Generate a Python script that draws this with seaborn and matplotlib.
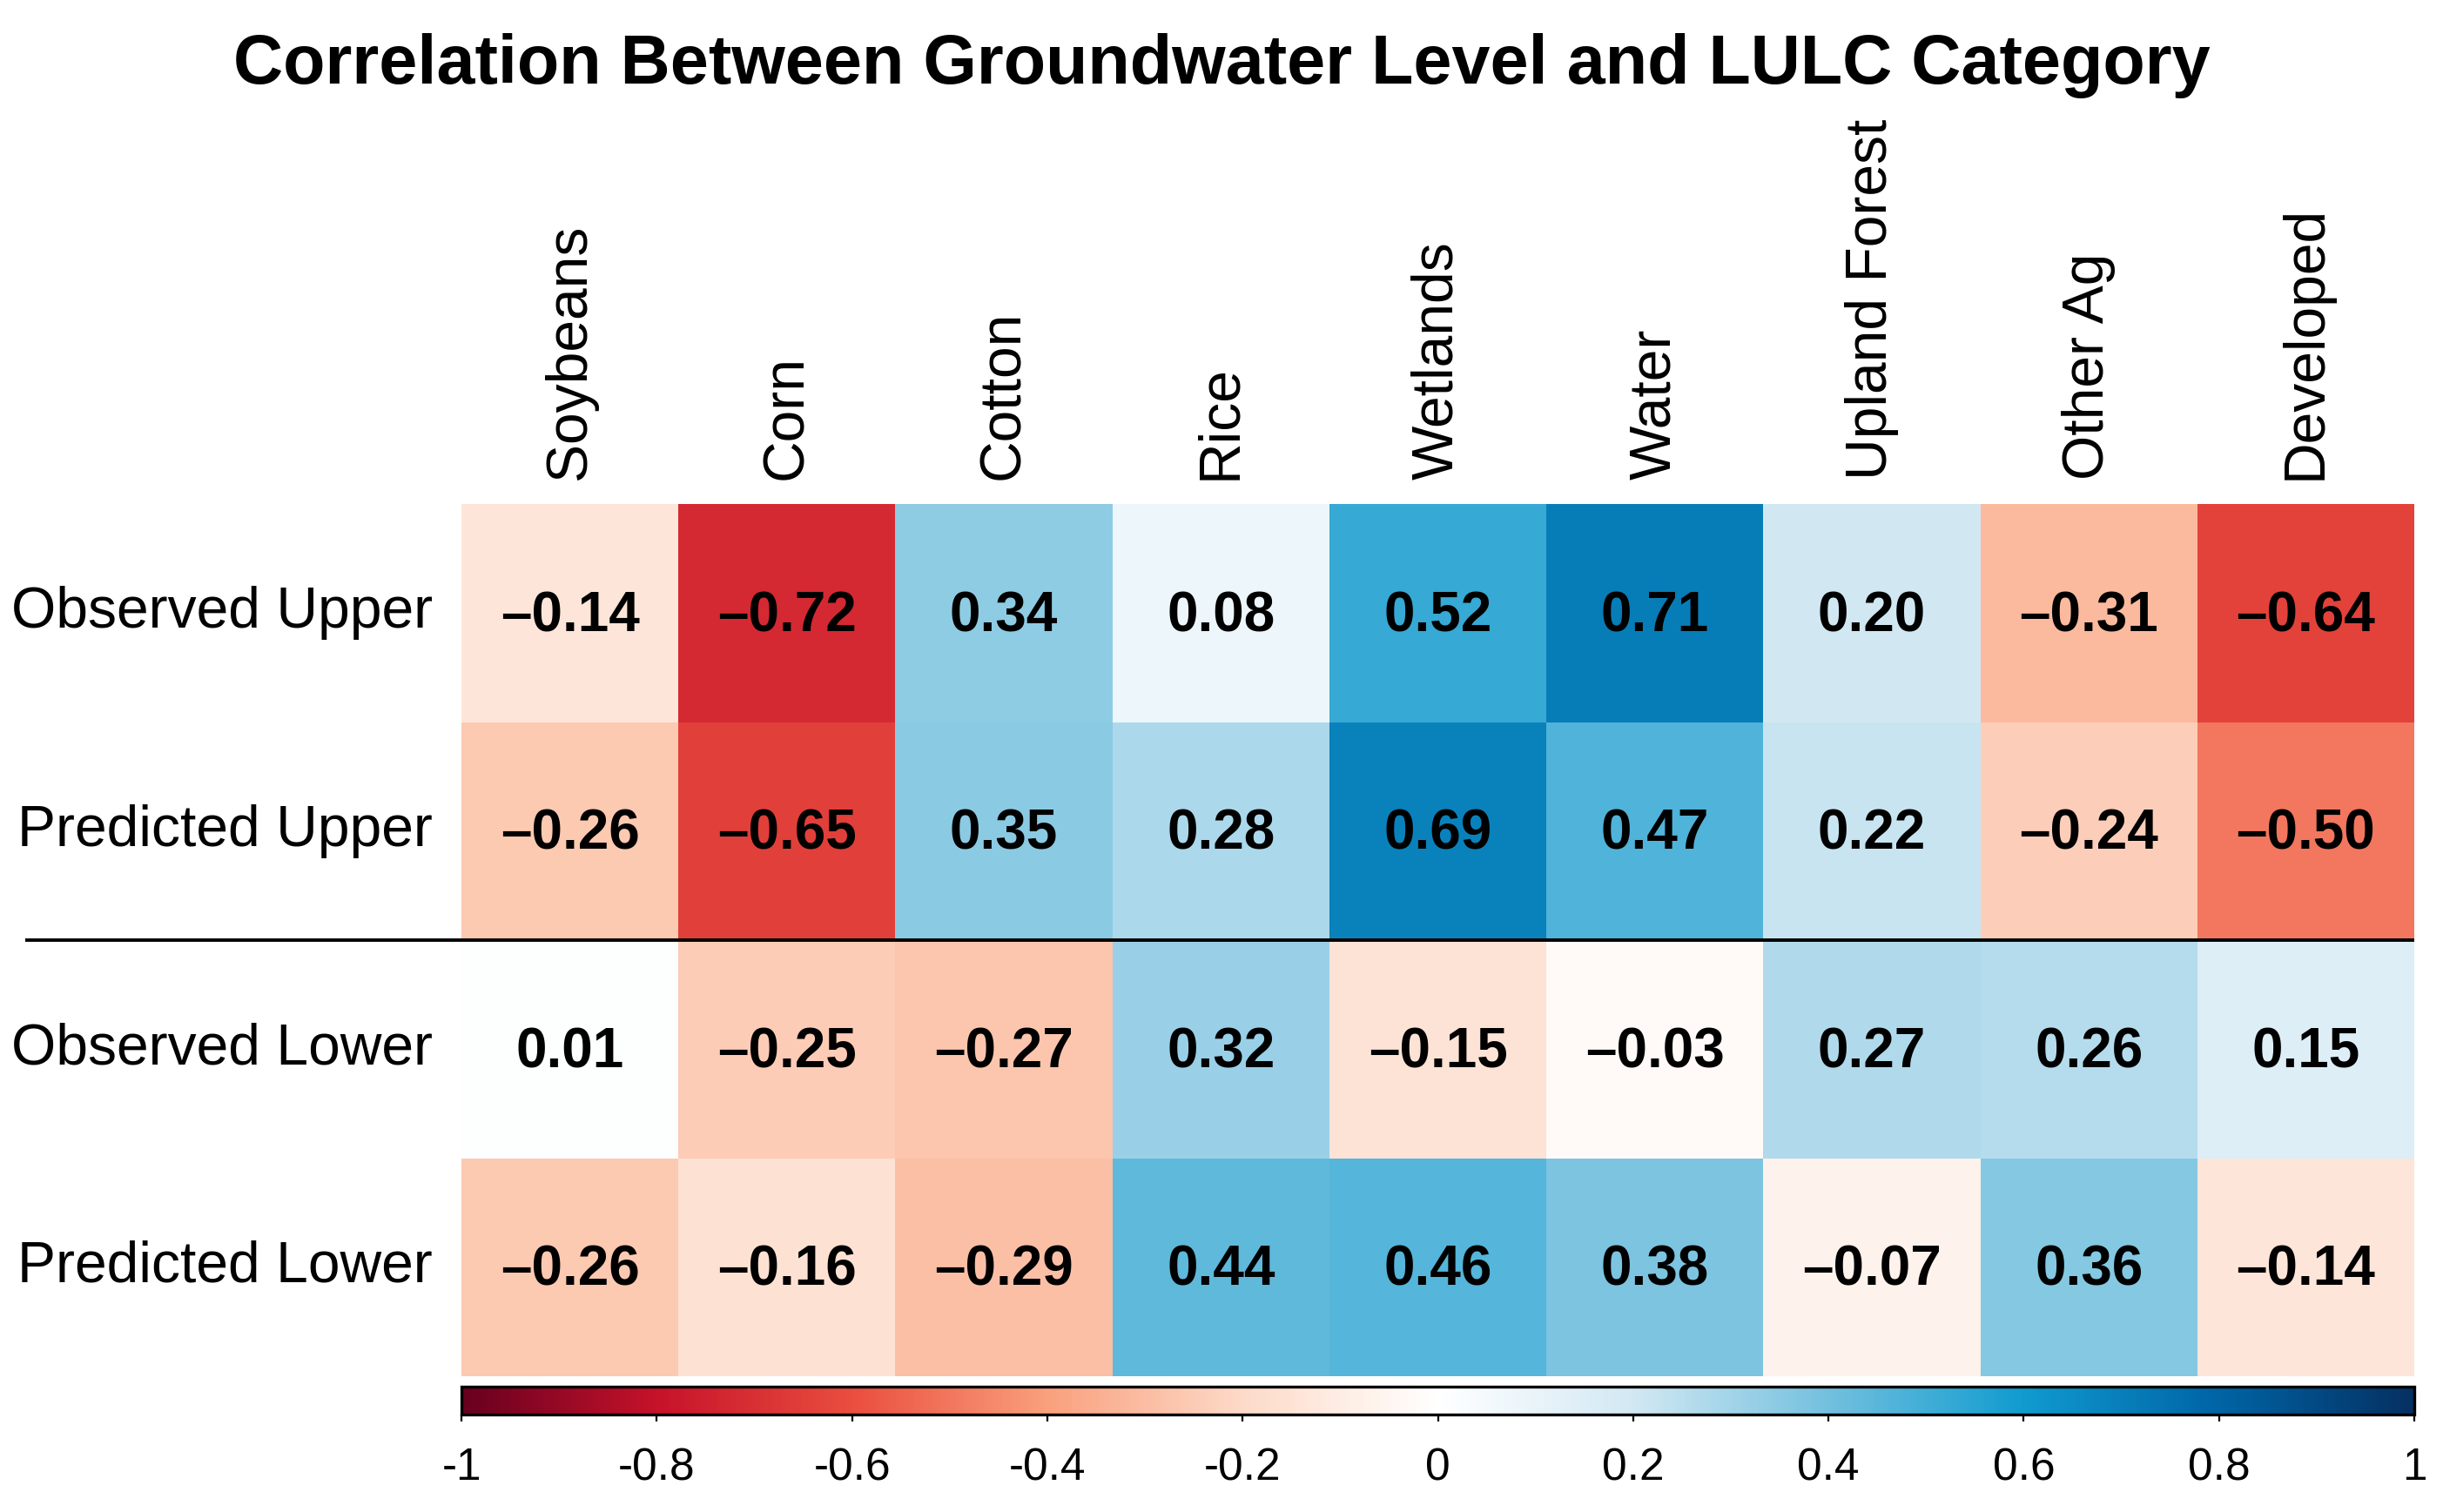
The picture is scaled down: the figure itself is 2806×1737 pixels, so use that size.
import numpy as np
import pandas as pd
import matplotlib
matplotlib.use("Agg")
import matplotlib.pyplot as plt
import matplotlib.transforms as mtransforms
from matplotlib.colors import LinearSegmentedColormap
import seaborn as sns

# ---------------- data ----------------
row_labels = ["Observed Upper", "Predicted Upper", "Observed Lower", "Predicted Lower"]
col_labels = ["Soybeans", "Corn", "Cotton", "Rice", "Wetlands", "Water",
              "Upland Forest", "Other Ag", "Developed"]
observed_upper = [-0.14, -0.72, 0.34, 0.08, 0.52, 0.71, 0.20, -0.31, -0.64]
predicted_upper = [-0.26, -0.65, 0.35, 0.28, 0.69, 0.47, 0.22, -0.24, -0.50]
observed_lower = [0.01, -0.25, -0.27, 0.32, -0.15, -0.03, 0.27, 0.26, 0.15]
predicted_lower = [-0.26, -0.16, -0.29, 0.44, 0.46, 0.38, -0.07, 0.36, -0.14]
cbar_ticks = [-1, -0.8, -0.6, -0.4, -0.2, 0, 0.2, 0.4, 0.6, 0.8, 1]
cbar_ticklabels = ["-1", "-0.8", "-0.6", "-0.4", "-0.2", "0", "0.2", "0.4", "0.6", "0.8", "1"]
title = "Correlation Between Groundwater Level and LULC Category"

df = pd.DataFrame([observed_upper, predicted_upper, observed_lower, predicted_lower],
                  index=row_labels, columns=col_labels)
annot = df.apply(lambda c: c.map(lambda v: ("\u2013" if v < 0 else "") + f"{abs(v):.2f}"))

# ---------------- style ----------------
sns.set_theme(style="white")
plt.rcParams["font.family"] = ["Liberation Sans", "DejaVu Sans"]

anchors = [(-1.0, "#67001f"), (-0.8, "#c6122a"), (-0.6, "#ea4e3e"), (-0.4, "#f9a07d"),
           (-0.2, "#fddac8"), (0.0, "#ffffff"), (0.2, "#d2e8f3"), (0.4, "#73c0de"),
           (0.6, "#109bcf"), (0.8, "#0064a5"), (1.0, "#053061")]
cmap = LinearSegmentedColormap.from_list(
    "corr", [((v + 1) / 2, c) for v, c in anchors], N=512)

W, H = 2806, 1737
fig = plt.figure(figsize=(W / 100, H / 100), dpi=100)

def px_axes(x0, y0, x1, y1):
    return fig.add_axes([x0 / W, 1 - y1 / H, (x1 - x0) / W, (y1 - y0) / H])

ax = px_axes(530, 579, 2773, 1581)
cax = px_axes(530, 1593, 2773, 1625)

sns.heatmap(df, ax=ax, cmap=cmap, vmin=-1, vmax=1, annot=annot, fmt="",
            annot_kws={"fontsize": 46, "fontweight": "bold", "color": "black"},
            cbar_ax=cax, cbar_kws={"orientation": "horizontal", "ticks": cbar_ticks},
            xticklabels=col_labels, yticklabels=row_labels, linewidths=0)

# black annotation text, nudged slightly below cell centre as in the reference
for t in ax.texts:
    t.set_color("black")
    t.set_transform(t.get_transform() + mtransforms.ScaledTranslation(0, -4 / 100, fig.dpi_scale_trans))

ax.xaxis.tick_top()
ax.tick_params(axis="x", rotation=90, length=0, pad=20, labelsize=47.5, colors="black")
ax.tick_params(axis="y", rotation=0, length=0, pad=24, labelsize=47.5, colors="black")
ax.set_xlabel("")
ax.set_ylabel("")

# separator line between upper and lower
trans = mtransforms.blended_transform_factory(fig.transFigure, ax.transData)
ax.plot([29 / W, 2773 / W], [2, 2], transform=trans, color="black",
        linewidth=2.8, clip_on=False, solid_capstyle="butt")

# colorbar
cbar = ax.collections[0].colorbar
cbar.set_ticks(cbar_ticks)
cbar.set_ticklabels(cbar_ticklabels)
cbar.outline.set_edgecolor("black")
cbar.outline.set_linewidth(2.4)
cax.tick_params(axis="x", direction="out", length=6, width=1.6, pad=21,
                labelsize=37, colors="black", bottom=True)

fig.text(0.5, 1 - 96 / H, title, ha="center", va="baseline",
         fontsize=57, fontweight="bold", color="black")

fig.savefig("out.png", dpi=100, facecolor="white")
